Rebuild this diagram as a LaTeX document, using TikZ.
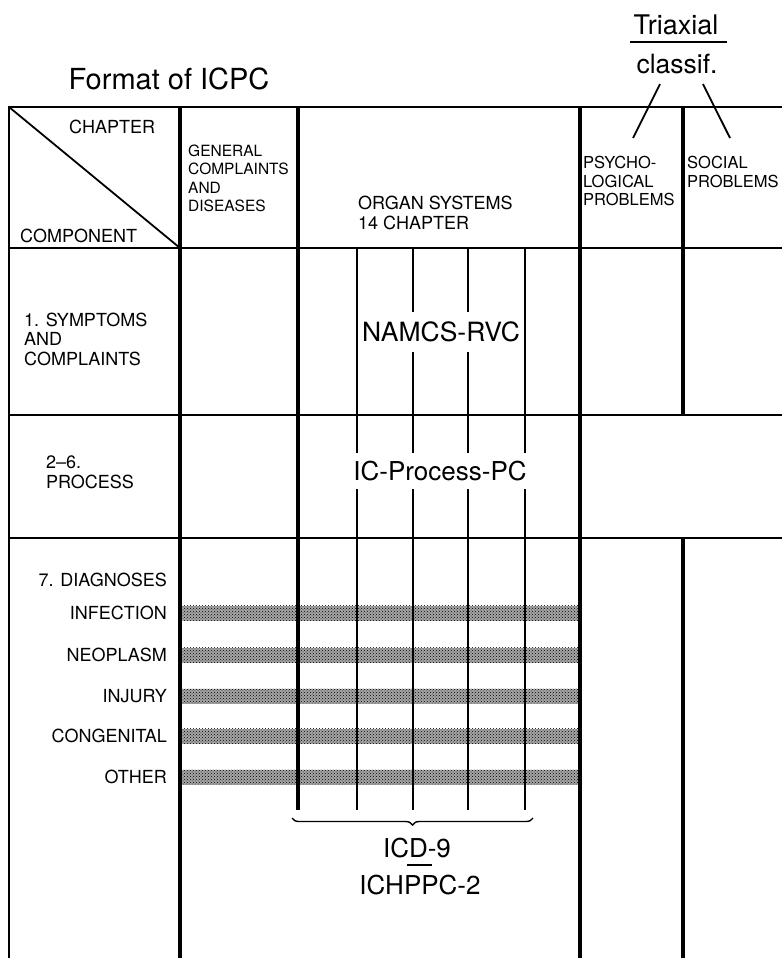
\documentclass[tikz,border=0pt]{standalone}
\usepackage{fontspec}
\setmainfont{TeX Gyre Heros}
\usetikzlibrary{patterns,decorations.pathreplacing}

\begin{document}
\begin{tikzpicture}[x=1pt,y=-1pt,
  thickline/.style={line width=3.2pt},
  rowline/.style={line width=2.6pt},
  borderline/.style={line width=2.2pt},
  thinline/.style={line width=1.8pt},
  hatchbase/.style={fill=black!35},
  hatch/.style={pattern=crosshatch dots, pattern color=black},
  lbl/.style={inner sep=0pt, align=left, anchor=north west},
  hdrA/.style={font=\fontsize{15.5}{18.5}\selectfont},
  hdrB/.style={font=\fontsize{16.5}{18.5}\selectfont},
  hdrC/.style={font=\fontsize{18}{20}\selectfont},
  rowfont/.style={font=\fontsize{18}{19.5}\selectfont},
  bigfont/.style={font=\fontsize{26.5}{30}\selectfont},
  plain/.style={inner sep=0pt}
]
\useasboundingbox (0,0) rectangle (782,958);

% hatched diagnosis bands
\foreach \yy in {613,655,696,736,777}{
  \fill[hatchbase] (181,\yy-7.5) rectangle (579,\yy+7.5);
  \fill[hatch] (181,\yy-7.5) rectangle (579,\yy+7.5);
}

% table frame
\draw[borderline] (8,107) -- (782,107);
\draw[borderline] (9,106) -- (9,958);
\draw[rowline] (8,248) -- (782,248);
\draw[rowline] (8,415) -- (782,415);
\draw[rowline] (8,538) -- (782,538);
\draw[thinline] (9,107) -- (180,248);
\draw[thickline] (180,106) -- (180,958);
\draw[thickline] (298,106) -- (298,810);
\draw[thickline] (580,106) -- (580,958);
\draw[thickline] (683,106) -- (683,415);
\draw[thickline] (683,538) -- (683,958);
\foreach \xx in {357,413,468,525}
  \draw[thinline] (\xx,248) -- (\xx,810);

% title and triaxial note
\node[plain, font=\fontsize{29}{34}\selectfont] (title) at (169,79) {Format of ICPC};
\node[plain, font=\fontsize{27}{30}\selectfont] (triax) at (676,25) {Triaxial};
\draw[line width=1.6pt] (630,42) -- (727,42);
\node[plain, font=\fontsize{26.5}{30}\selectfont] (classif) at (677,64) {classif.};
\coordinate (psyend) at (633,138);
\coordinate (socend) at (730,138);
\draw[thinline] (classif.south) ++(-17,10) -- (psyend);
\draw[thinline] (classif.south) ++(26,10) -- (socend);

% header
\node[plain, hdrC, anchor=west] (chapter) at (69,127) {CHAPTER};
\node[plain, hdrC, anchor=west] (component) at (20,236) {COMPONENT};
\node[lbl, hdrA] (general) at (188,144.5) {GENERAL\\COMPLAINTS\\AND\\DISEASES};
\node[lbl, hdrC] (organ) at (358,195.5) {ORGAN SYSTEMS\\14 CHAPTER};
\node[lbl, hdrB] (psych) at (583,156) {PSYCHO-\\LOGICAL\\PROBLEMS};
\node[lbl, hdrB] (social) at (687,156) {SOCIAL\\PROBLEMS};

% row labels
\node[lbl, rowfont] (symptoms) at (24,312.5) {1. SYMPTOMS\\AND\\COMPLAINTS};
\node[lbl, font=\fontsize{18}{20}\selectfont] (process) at (46,455.5) {2--6.\\PROCESS};
\node[plain, rowfont, anchor=east] (diag) at (167,580) {7. DIAGNOSES};
\node[plain, rowfont, anchor=east] (infection) at (167,613) {INFECTION};
\node[plain, rowfont, anchor=east] (neoplasm) at (167,655) {NEOPLASM};
\node[plain, rowfont, anchor=east] (injury) at (167,696) {INJURY};
\node[plain, rowfont, anchor=east] (congenital) at (167,736) {CONGENITAL};
\node[plain, rowfont, anchor=east] (other) at (167,777) {OTHER};

% classifications in organ systems
\node[bigfont, fill=white, inner xsep=1pt, inner ysep=10pt] (namcs) at (441,332) {NAMCS-RVC};
\node[font=\fontsize{26}{30}\selectfont, fill=white, inner xsep=1pt, inner ysep=8pt] (icproc) at (440,471) {IC-Process-PC};

% brace and ICD-9
\draw[line width=1.4pt, decorate, decoration={brace, amplitude=7pt, mirror}] (292,818) -- (533,818);
\node[plain, font=\fontsize{26}{30}\selectfont] (icd) at (417,848) {ICD-9};
\draw[line width=1.6pt] (407,865) -- (432,865);
\node[plain, font=\fontsize{26}{30}\selectfont] (ichppc) at (420,885) {ICHPPC-2};
\end{tikzpicture}
\end{document}
